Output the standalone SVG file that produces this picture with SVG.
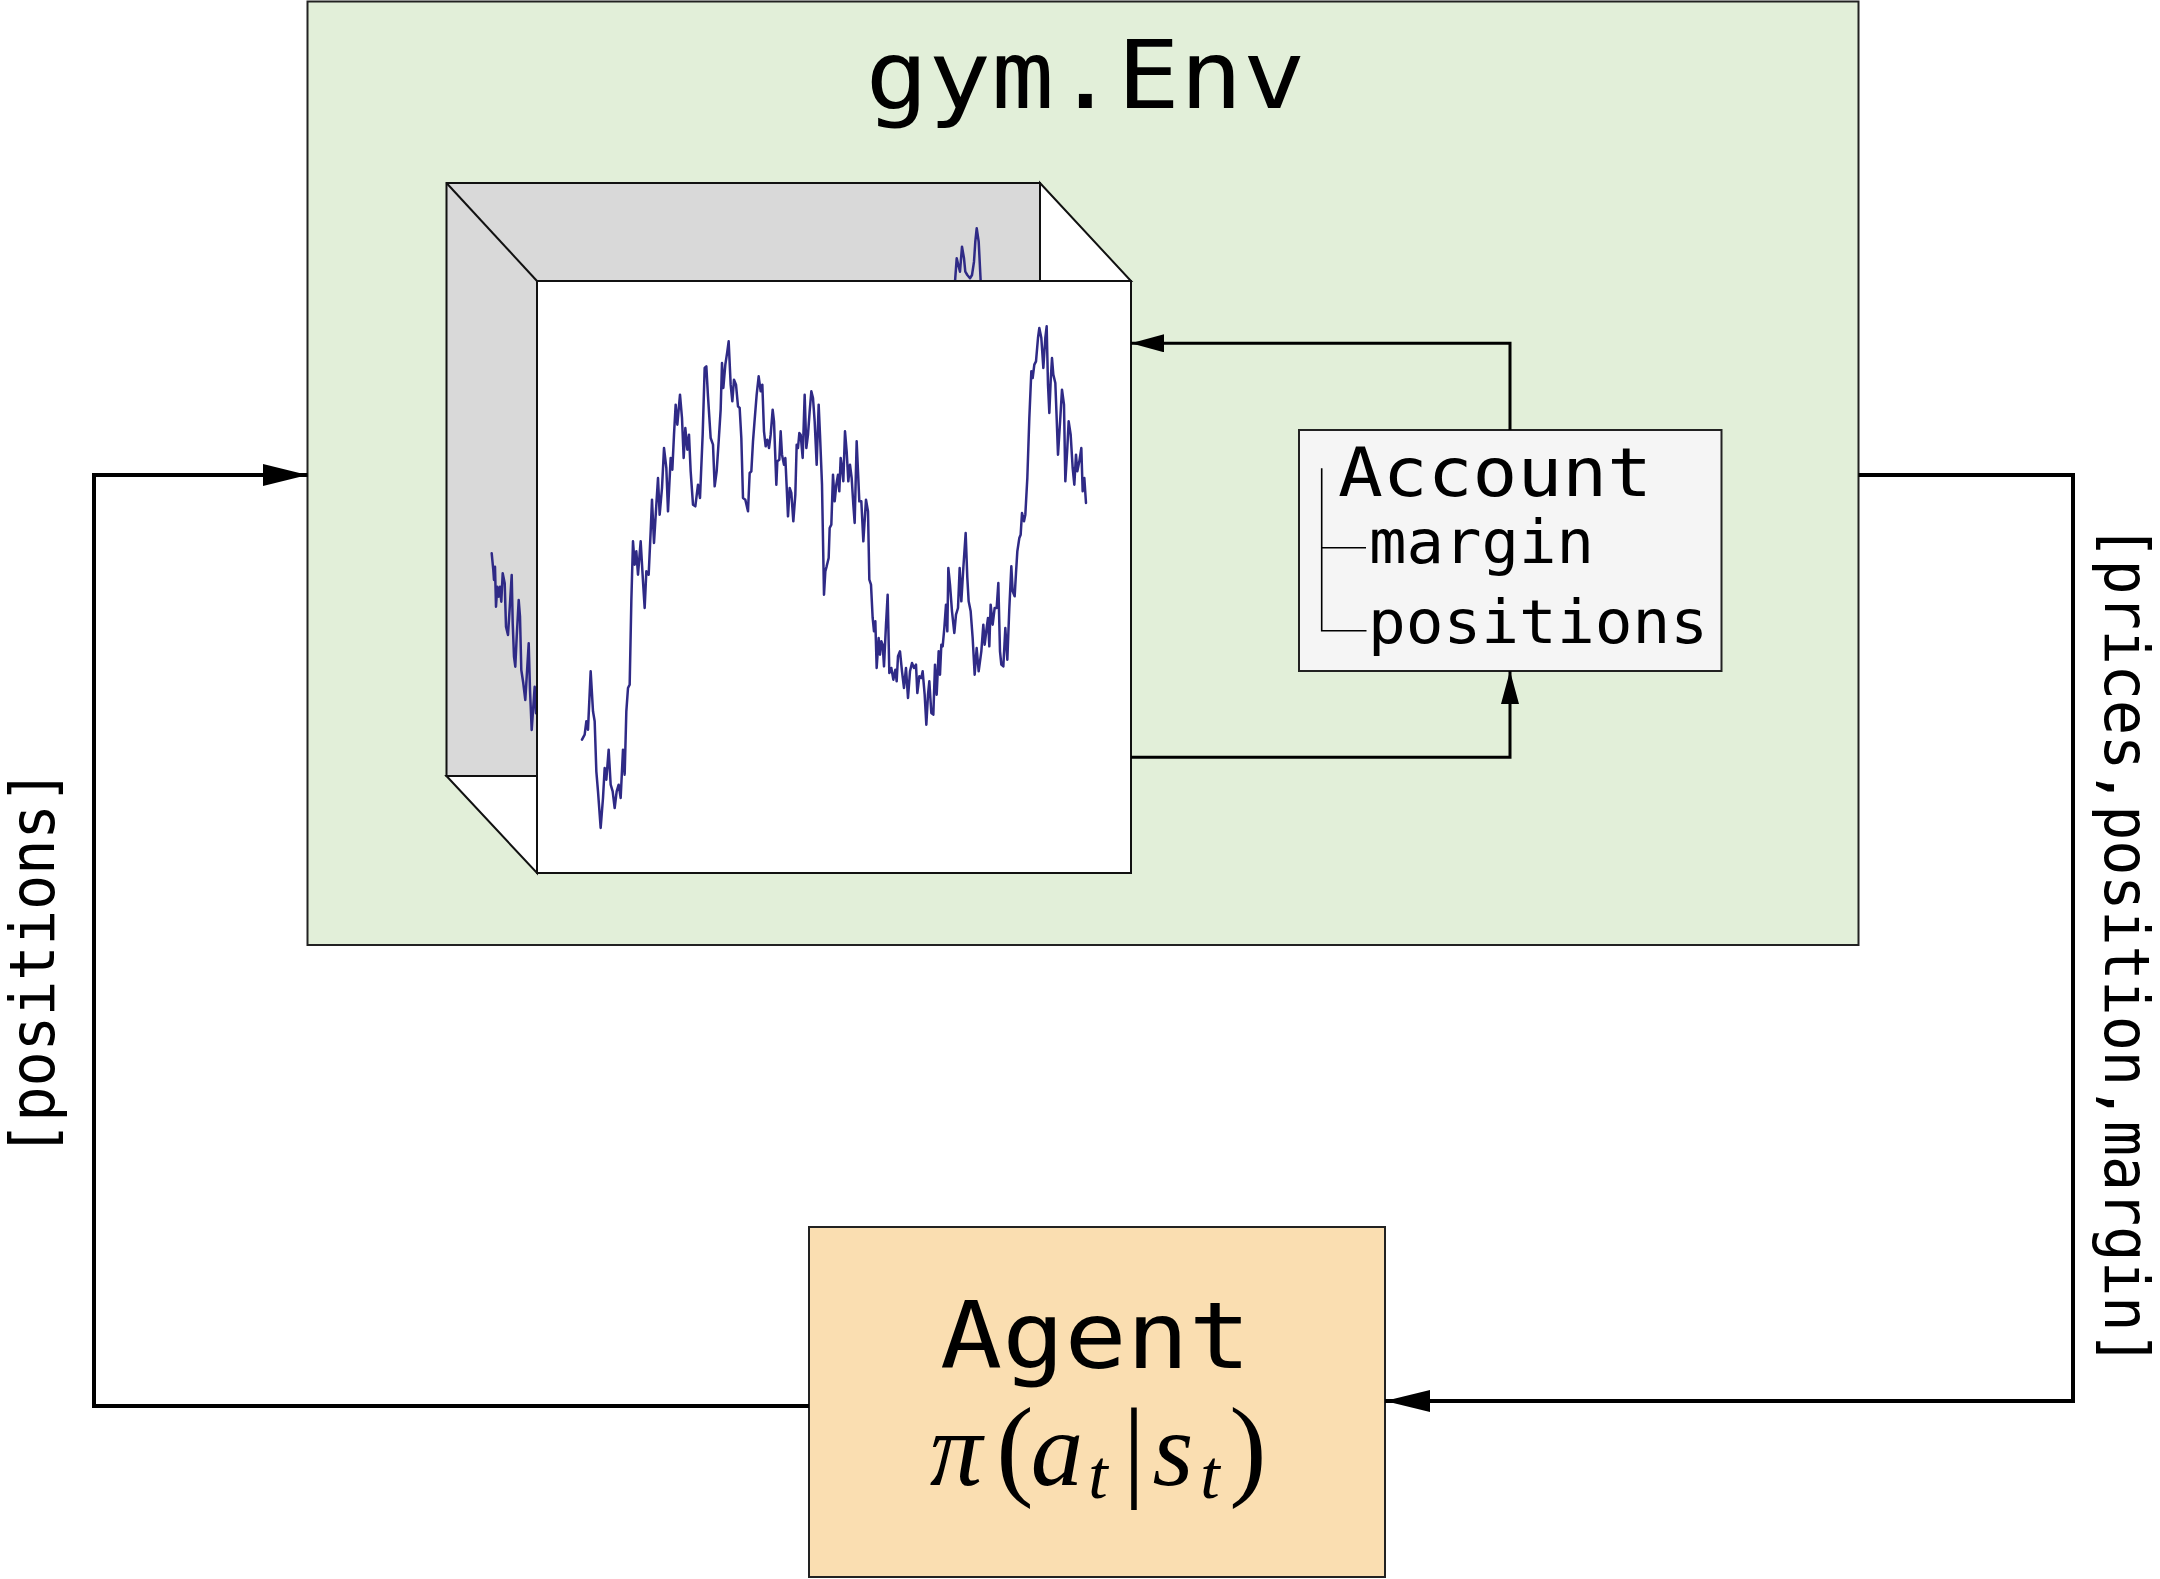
<svg xmlns="http://www.w3.org/2000/svg" width="2160" height="1579" viewBox="0 0 2160 1579">
<style>
.box{stroke:#222;stroke-width:2}
.mono{font-family:"DejaVu Sans Mono","Liberation Mono",monospace;fill:#000}
.price{fill:none;stroke:#2f2a86;stroke-linejoin:round;stroke-linecap:round}
.edge{fill:none;stroke:#000;stroke-linejoin:miter}
.math{font-family:"Liberation Serif","DejaVu Serif",serif;fill:#000}
</style>
<defs>
<marker id="bigArrow" markerUnits="userSpaceOnUse" markerWidth="46" markerHeight="24" refX="45" refY="11" orient="auto">
<path d="M0,0 L45,11 L0,22 z" fill="#000"/>
</marker>
<marker id="smallArrow" markerUnits="userSpaceOnUse" markerWidth="34" markerHeight="20" refX="33" refY="9" orient="auto">
<path d="M0,0 L33,9 L0,18 z" fill="#000"/>
</marker>
</defs>
<rect width="2160" height="1579" fill="#fff"/>

<g id="env">
<rect class="box" x="307.5" y="1.5" width="1551" height="943.5" fill="#e2efd9" stroke="#333" stroke-width="1.5"/>
<text class="mono" x="1085.5" y="108" font-size="94" text-anchor="middle" textLength="440" lengthAdjust="spacingAndGlyphs">gym.Env</text>
</g>

<g id="price-cube">
<rect x="446.5" y="183" width="593.5" height="593" fill="#d9d9d9" stroke="#111" stroke-width="2"/>
<path class="price" stroke-width="2.5" d="M491.7,553.3 L493.3,570 494,580 495,566.7 496,606.7 497.3,586.7 498.7,596.7 500,586.7 501.3,601.7 502.7,573.3 504.7,583.3 506,626.7 508,635 510,603.3 511.7,575 512.7,623.3 514,656.7 515.3,666.7 516.7,636.7 518.7,600 520,616.7 521.3,670 523.3,683.3 525.3,700 526.7,676.7 528.7,643.3 530,690 531.7,730 533.3,706.7 534.7,686.7 536,713.3 540,700 545,720"/>
<path class="price" stroke-width="2.5" d="M952,300 L955,281.7 956.7,258.3 958.3,265 960,271.7 962,246.7 964,258.3 965.3,271.7 967.3,275 970,278.3 972,275 974,261.7 975.3,241.7 976.7,228.3 978.7,241.7 980.7,281.7 982,300"/>
<path d="M1040,183 L1131,281 L1040,281 z" fill="#fff" stroke="#111" stroke-width="2"/>
<path d="M446.5,776 L537,873 L537,776 z" fill="#fff" stroke="#111" stroke-width="2"/>
<line x1="446.5" y1="183" x2="537" y2="281" stroke="#111" stroke-width="2"/>
<rect x="537" y="281" width="594" height="592" fill="#fff" stroke="#111" stroke-width="2"/>
<g transform="translate(578,318) scale(0.33333)">
<path class="price" stroke-width="7.5" d="M12,1265 L20,1250 25,1210 30,1235 38,1060 45,1180 50,1210 55,1360 60,1420 68,1530 75,1440 80,1350 85,1385 92,1295 98,1400 104,1420 110,1470 116,1420 122,1400 128,1440 135,1295 140,1370 145,1180 150,1110 155,1100 160,850 165,670 170,740 175,700 180,770 188,670 195,790 200,870 205,760 212,770 218,640 222,545 228,675 235,560 240,480 245,590 252,510 258,390 265,450 270,580 278,420 283,455 288,350 293,260 298,320 306,230 312,300 317,420 322,330 328,395 333,350 338,460 345,560 352,565 360,500 366,540 374,350 380,150 385,145 390,235 398,360 405,380 410,505 416,460 422,370 428,275 432,135 436,210 442,140 448,100 452,70 458,200 463,250 468,185 474,200 480,265 485,270 490,360 495,540 502,545 510,580 515,465 520,460 525,370 530,305 536,230 542,175 548,220 553,200 558,340 563,385 568,365 573,390 578,350 584,275 588,310 595,500 598,430 604,425 608,340 612,410 618,440 622,420 626,505 630,595 635,510 640,525 646,610 652,530 656,380 660,390 664,345 668,350 674,420 680,230 685,390 690,350 695,280 700,220 705,240 710,310 716,440 722,260 726,350 732,500 738,830 742,760 746,745 752,720 755,630 760,620 765,470 770,550 775,500 780,470 784,520 788,420 792,450 796,490 801,340 806,400 811,490 816,440 821,480 826,560 830,615 836,370 840,460 844,550 850,550 856,670 864,545 870,580 874,785 879,800 884,900 888,940 892,910 896,1050 902,960 906,1010 910,970 914,980 918,1045 924,920 929,830 934,1065 940,1050 946,1085 952,1055 956,1090 960,1015 966,1000 972,1060 978,1110 984,1050 990,1140 996,1060 1002,1035 1008,1050 1014,1040 1018,1125 1024,1075 1030,1080 1034,1060 1040,1130 1045,1220 1050,1130 1054,1090 1060,1185 1066,1190 1071,1040 1076,1130 1082,1000 1086,1070 1090,980 1094,985 1099,930 1104,860 1108,940 1111,750 1116,800 1122,880 1129,945 1134,890 1140,870 1145,750 1150,850 1156,750 1163,645 1168,780 1172,850 1178,880 1184,960 1190,1070 1196,990 1202,1060 1210,1000 1216,920 1220,980 1226,930 1230,900 1234,985 1238,860 1244,920 1250,870 1256,870 1261,795 1266,1000 1270,1040 1276,1045 1282,930 1288,1025 1294,870 1300,745 1304,820 1310,835 1314,765 1318,700 1324,660 1328,650 1332,585 1338,610 1342,590 1348,480 1354,300 1360,160 1364,180 1369,140 1374,130 1380,60 1384,30 1390,60 1396,150 1402,60 1406,25 1410,200 1414,285 1418,190 1422,120 1426,170 1432,195 1436,300 1440,410 1446,315 1452,215 1458,260 1462,490 1468,390 1472,310 1478,350 1484,450 1489,500 1494,410 1498,460 1504,430 1510,390 1514,520 1519,480 1524,555"/>
</g>
</g>

<g id="account">
<rect x="1299" y="430" width="422.5" height="241" fill="#f5f5f5" stroke="#222" stroke-width="2"/>
<path d="M1321.7,468.3 V630.7 H1366.5 M1321.7,547.7 H1366" fill="none" stroke="#000" stroke-width="1.6"/>
<text class="mono" x="1338" y="495.7" font-size="68" textLength="314" lengthAdjust="spacingAndGlyphs">Account</text>
<text class="mono" x="1369" y="563.3" font-size="60" textLength="225" lengthAdjust="spacingAndGlyphs">margin</text>
<text class="mono" x="1368" y="643.3" font-size="60" textLength="340" lengthAdjust="spacingAndGlyphs">positions</text>
</g>

<g id="agent">
<rect x="809" y="1227" width="576" height="350" fill="#fadeb1" stroke="#222" stroke-width="2"/>
<text class="mono" x="940" y="1368" font-size="93" textLength="311" lengthAdjust="spacingAndGlyphs">Agent</text>
<text class="math" font-size="105"><tspan x="956" y="1485" text-anchor="middle" font-style="italic">π</tspan><tspan x="1015" y="1485" text-anchor="middle" font-size="112">(</tspan><tspan x="1057" y="1485" text-anchor="middle" font-style="italic">a</tspan><tspan x="1098" y="1498" text-anchor="middle" font-style="italic" font-size="70">t</tspan><tspan x="1134" y="1486" text-anchor="middle" font-size="112">|</tspan><tspan x="1173" y="1485" text-anchor="middle" font-style="italic">s</tspan><tspan x="1210" y="1498" text-anchor="middle" font-style="italic" font-size="70">t</tspan><tspan x="1248" y="1485" text-anchor="middle" font-size="112">)</tspan></text>
</g>

<g id="connectors">
<path class="edge" stroke-width="4" d="M809,1406 H94 V475 H307.5" marker-end="url(#bigArrow)"/>
<path class="edge" stroke-width="4" d="M1858.5,475 H2073 V1401 H1385" marker-end="url(#bigArrow)"/>
<path class="edge" stroke-width="3" d="M1510,430 V343.3 H1131" marker-end="url(#smallArrow)"/>
<path class="edge" stroke-width="3" d="M1131,757.3 H1510 V671" marker-end="url(#smallArrow)"/>
<text class="mono" transform="translate(54,963) rotate(-90)" font-size="62" text-anchor="middle" textLength="388" lengthAdjust="spacingAndGlyphs">[positions]</text>
<text class="mono" transform="translate(2105,945.5) rotate(90)" font-size="62" text-anchor="middle" textLength="842" lengthAdjust="spacingAndGlyphs">[prices,position,margin]</text>
</g>
</svg>
